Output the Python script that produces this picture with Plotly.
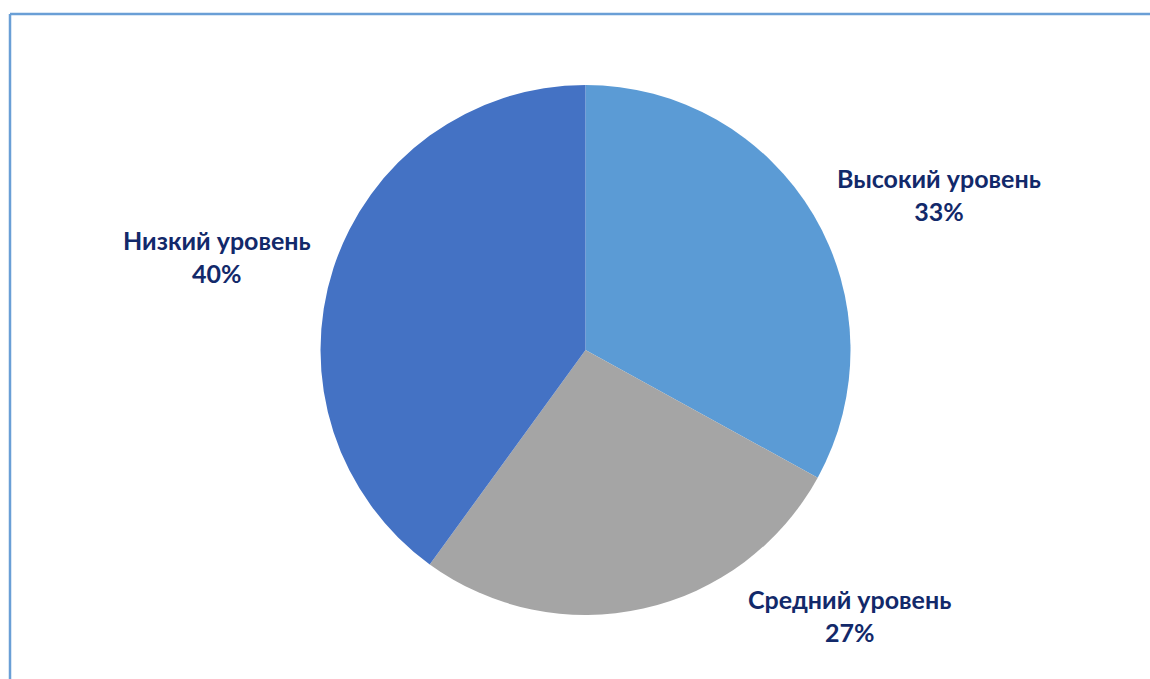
import plotly.graph_objects as go

categories = ["Высокий уровень", "Средний уровень", "Низкий уровень"]
values = [33, 27, 40]
colors = ["#5B9BD5", "#A5A5A5", "#4472C4"]

W, H = 1150, 679
# label centres (pixel positions of the text blocks)
label_pos = [(939, 195), (849, 615), (217, 256)]

fig = go.Figure(go.Pie(
    labels=categories,
    values=values,
    sort=False,
    direction="clockwise",
    rotation=0,
    marker=dict(colors=colors, line=dict(width=0)),
    textinfo="none",
    hoverinfo="label+percent",
    showlegend=False,
    domain=dict(x=[320 / W, 851 / W], y=[1 - 615 / H, 1 - 85 / H]),
))

total = sum(values)
for cat, v, (px, py) in zip(categories, values, label_pos):
    fig.add_annotation(
        x=px / W, y=1 - py / H, xref="paper", yref="paper",
        text=f"<b>{cat}<br>{round(v / total * 100)}%</b>",
        showarrow=False, xanchor="center", yanchor="middle",
        font=dict(family="Lato", size=25, color="#12296A"),
        align="center",
    )

border = dict(color="#6A9FD6", width=2.5)
fig.add_shape(type="line", xref="paper", yref="paper",
              x0=10 / W, x1=1.0, y0=1 - 14 / H, y1=1 - 14 / H, line=border)
fig.add_shape(type="line", xref="paper", yref="paper",
              x0=10 / W, x1=10 / W, y0=0.0, y1=1 - 14 / H, line=border)

fig.update_layout(
    width=W, height=H,
    margin=dict(l=0, r=0, t=0, b=0),
    paper_bgcolor="white", plot_bgcolor="white",
)

fig.write_html(
    "out.html",
    config={"displayModeBar": False},
    post_script="document.body.style.margin='0';document.body.style.overflow='hidden';",
)
